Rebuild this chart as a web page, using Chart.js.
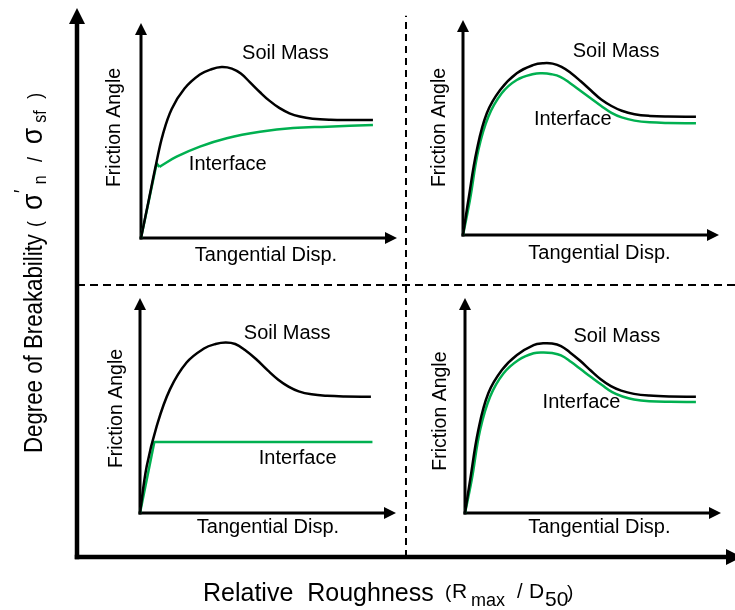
<!DOCTYPE html>
<html>
<head>
<meta charset="utf-8">
<script src="https://cdn.jsdelivr.net/npm/chart.js@4.4.1/dist/chart.umd.min.js"></script>
<style>
  html, body { margin: 0; padding: 0; background: #fff; }
  #wrap { position: relative; width: 735px; height: 610px; overflow: hidden; }
  #wrap canvas { position: absolute; }
</style>
</head>
<body>
<div id="wrap">
  <canvas id="frame" width="735" height="610"></canvas>
  <canvas id="p-tl"></canvas>
  <canvas id="p-tr"></canvas>
  <canvas id="p-bl"></canvas>
  <canvas id="p-br"></canvas>
</div>
<script>
// Outer frame: relative roughness (x) vs degree of breakability (y), split in quadrants at 1
const roughnessRange = [0, 2];
const breakabilityRange = [0, 2];
const quadrantSplit = 1;

// Panel curves as [tangential disp, friction angle], both in arbitrary units 0..10
// top left: low roughness, high breakability
const tlSoil = [[0, 0], [0.3, 1.75], [0.6, 3.5], [0.85, 4.8], [1.2, 6.0], [1.7, 6.95], [2.3, 7.6], [2.75, 7.85],
  [3.15, 7.95], [3.55, 7.88], [3.9, 7.65], [4.25, 7.25], [4.65, 6.78], [5.0, 6.4], [5.4, 6.05], [5.8, 5.8],
  [6.2, 5.65], [6.7, 5.55], [7.4, 5.5], [8.2, 5.49], [9.06, 5.49]];
const tlIfaceRise = [[0, 0], [0.61, 3.47], [0.72, 3.31]];
const tlIface = [[0.72, 3.31], [1.39, 3.78], [2.30, 4.25], [3.35, 4.64], [4.65, 4.94], [5.94, 5.12], [7.27, 5.18], [9.06, 5.26]];

// top right: high roughness, high breakability
const trSoil = [[0, 0], [0.21, 1.63], [0.54, 3.95], [0.93, 5.66], [1.45, 6.74], [2.10, 7.52], [2.76, 7.91],
  [3.15, 7.99], [3.5, 7.97], [3.85, 7.82], [4.2, 7.55], [4.6, 7.15], [5.0, 6.72], [5.4, 6.3], [5.8, 6.0],
  [6.2, 5.78], [6.7, 5.62], [7.3, 5.54], [8.0, 5.51], [9.10, 5.50]];
const trIface = [[0, 0], [0.27, 1.63], [0.60, 3.95], [0.99, 5.50], [1.52, 6.60], [2.10, 7.21], [2.76, 7.49],
  [3.1, 7.52], [3.45, 7.48], [3.8, 7.36], [4.2, 7.05], [4.6, 6.7], [5.0, 6.35], [5.4, 6.0], [5.8, 5.68],
  [6.2, 5.47], [6.7, 5.32], [7.3, 5.24], [8.0, 5.21], [9.10, 5.20]];

// bottom left: low roughness, low breakability
const blSoil = [[0, 0], [0.26, 2.16], [0.65, 4.03], [1.17, 5.75], [1.82, 7.0], [2.5, 7.65], [2.95, 7.86],
  [3.35, 7.93], [3.72, 7.86], [4.1, 7.58], [4.54, 7.15], [5.0, 6.62], [5.4, 6.2], [5.8, 5.88], [6.2, 5.66],
  [6.7, 5.52], [7.3, 5.45], [8.0, 5.42], [9.02, 5.41]];
const blIface = [[0, 0], [0.56, 3.30], [9.08, 3.30]];

// bottom right: high roughness, low breakability
const brSoil = [[0, 0], [0.20, 1.53], [0.52, 3.86], [0.91, 5.57], [1.44, 6.65], [2.03, 7.35], [2.68, 7.81],
  [3.05, 7.89], [3.4, 7.88], [3.75, 7.76], [4.1, 7.47], [4.5, 7.08], [4.9, 6.64], [5.3, 6.22], [5.7, 5.9],
  [6.1, 5.69], [6.6, 5.54], [7.2, 5.46], [8.0, 5.42], [9.02, 5.41]];
const brIface = [[0, 0], [0.26, 1.53], [0.59, 3.86], [0.98, 5.41], [1.50, 6.49], [2.09, 7.12], [2.68, 7.43],
  [3.05, 7.47], [3.4, 7.44], [3.75, 7.33], [4.15, 7.02], [4.55, 6.66], [4.95, 6.3], [5.35, 5.95], [5.75, 5.62],
  [6.15, 5.42], [6.6, 5.28], [7.2, 5.2], [8.0, 5.17], [9.02, 5.16]];

const panelRange = [0, 10];

const FONT = '"Liberation Sans", Arial, Helvetica, sans-serif';
const GREEN = '#00B050';

function toXY(pairs) {
  return pairs.map(p => ({ x: p[0], y: p[1] }));
}

function arrowUp(ctx, x, y, len, half) {
  ctx.beginPath();
  ctx.moveTo(x, y);
  ctx.lineTo(x - half, y + len);
  ctx.lineTo(x + half, y + len);
  ctx.closePath();
  ctx.fill();
}

function arrowRight(ctx, x, y, len, half) {
  ctx.beginPath();
  ctx.moveTo(x, y);
  ctx.lineTo(x - len, y - half);
  ctx.lineTo(x - len, y + half);
  ctx.closePath();
  ctx.fill();
}

// text runs along a baseline, each run has its own size and offsets
function drawRuns(ctx, runs) {
  runs.forEach(r => {
    ctx.font = r.size + 'px ' + FONT;
    ctx.fillText(r.t, r.dx, r.dy);
  });
}

// ---------- outer frame ----------
const frameDecor = {
  id: 'frameDecor',
  beforeDatasetsDraw(chart) {
    const { ctx, chartArea: a, scales: { x, y } } = chart;
    const x0 = x.getPixelForValue(roughnessRange[0]);
    const y0 = y.getPixelForValue(breakabilityRange[0]);
    ctx.save();
    ctx.fillStyle = '#000';
    ctx.strokeStyle = '#000';
    ctx.lineWidth = 4.5;
    // vertical axis
    ctx.beginPath();
    ctx.moveTo(x0, y0 + 2.25);
    ctx.lineTo(x0, a.top + 6);
    ctx.stroke();
    arrowUp(ctx, x0, a.top - 5, 16, 8);
    // horizontal axis
    ctx.beginPath();
    ctx.moveTo(x0 - 2.25, y0);
    ctx.lineTo(a.right - 4, y0);
    ctx.stroke();
    arrowRight(ctx, a.right + 7, y0, 16, 8);
    ctx.restore();
  },
  afterDraw(chart) {
    const { ctx, chartArea: a } = chart;
    ctx.save();
    ctx.fillStyle = '#000';
    ctx.textBaseline = 'alphabetic';
    ctx.textAlign = 'left';
    // x title
    ctx.save();
    ctx.translate(a.left + 126, a.bottom + 44);
    drawRuns(ctx, [
      { t: 'Relative  Roughness', size: 25, dx: 0, dy: 0 },
      { t: '(', size: 19, dx: 242, dy: -3 },
      { t: 'R', size: 21, dx: 249, dy: -3 },
      { t: 'max', size: 18, dx: 268, dy: 5 },
      { t: '/', size: 20, dx: 314, dy: -3 },
      { t: 'D', size: 21, dx: 326, dy: -3 },
      { t: '50', size: 21, dx: 342, dy: 5 },
      { t: ')', size: 19, dx: 364, dy: -3 }
    ]);
    ctx.restore();
    // y title, rotated
    ctx.save();
    ctx.translate(42, a.bottom - 104);
    ctx.rotate(-Math.PI / 2);
    ctx.scale(0.89, 1);
    drawRuns(ctx, [
      { t: 'Degree of Breakability', size: 25, dx: 0, dy: 0 },
      { t: '(', size: 20, dx: 254, dy: 0 },
      { t: '\u03C3', size: 30, dx: 273, dy: 0 },
      { t: '\u2032', size: 20, dx: 292, dy: -14 },
      { t: 'n', size: 18, dx: 302, dy: 4 },
      { t: '/', size: 20, dx: 327, dy: 0 },
      { t: '\u03C3', size: 30, dx: 347, dy: 0 },
      { t: 'sf', size: 18, dx: 371, dy: 4 },
      { t: ')', size: 20, dx: 398, dy: 0 }
    ]);
    ctx.restore();
    ctx.restore();
  }
};

new Chart(document.getElementById('frame'), {
  type: 'line',
  data: {
    datasets: [
      {
        label: 'roughness split',
        data: [{ x: quadrantSplit, y: breakabilityRange[0] }, { x: quadrantSplit, y: 1.99 }],
        borderColor: '#000', borderWidth: 2, borderDash: [7, 5], pointRadius: 0, clip: false
      },
      {
        label: 'breakability split',
        data: [{ x: roughnessRange[0], y: quadrantSplit }, { x: roughnessRange[1], y: quadrantSplit }],
        borderColor: '#000', borderWidth: 2, borderDash: [8, 5], pointRadius: 0, clip: false
      }
    ]
  },
  options: {
    responsive: false,
    animation: false,
    devicePixelRatio: 1,
    layout: { padding: { left: 77, right: 0, top: 13, bottom: 53 } },
    scales: {
      x: { type: 'linear', min: roughnessRange[0], max: roughnessRange[1], display: false },
      y: { type: 'linear', min: breakabilityRange[0], max: breakabilityRange[1], display: false }
    },
    plugins: { legend: { display: false }, tooltip: { enabled: false } },
    events: []
  },
  plugins: [frameDecor]
});

// ---------- panels ----------
const PAD = { left: 50, right: 6, top: 4, bottom: 36 };
const AXIS_W = 256, AXIS_H = 215;

const panels = [
  {
    id: 'p-tl', origin: [141, 238],
    lines: [
      { data: tlSoil, color: '#000', smooth: true },
      { data: tlIfaceRise, color: GREEN, smooth: false },
      { data: tlIface, color: GREEN, smooth: true }
    ],
    soilAt: [5.64, 8.31], ifaceAt: [3.39, 3.16],
    frictionAt: [-0.82, 5.14], dispAt: [4.88, -1.07]
  },
  {
    id: 'p-tr', origin: [463, 235],
    lines: [
      { data: trSoil, color: '#000', smooth: true },
      { data: trIface, color: GREEN, smooth: true }
    ],
    soilAt: [5.98, 8.27], ifaceAt: [4.29, 5.12],
    frictionAt: [-0.71, 5.0], dispAt: [5.33, -1.12]
  },
  {
    id: 'p-bl', origin: [140, 513],
    lines: [
      { data: blSoil, color: '#000', smooth: true },
      { data: blIface, color: GREEN, smooth: false }
    ],
    soilAt: [5.75, 8.08], ifaceAt: [6.16, 2.29],
    frictionAt: [-0.70, 4.86], dispAt: [5.0, -0.93]
  },
  {
    id: 'p-br', origin: [465, 513],
    lines: [
      { data: brSoil, color: '#000', smooth: true },
      { data: brIface, color: GREEN, smooth: true }
    ],
    soilAt: [5.93, 7.94], ifaceAt: [4.55, 4.87],
    frictionAt: [-0.75, 4.74], dispAt: [5.25, -0.93]
  }
];

function panelDecor(p) {
  return {
    id: 'panelDecor',
    beforeDatasetsDraw(chart) {
      const { ctx, scales: { x, y } } = chart;
      const x0 = x.getPixelForValue(panelRange[0]), y0 = y.getPixelForValue(panelRange[0]);
      const x1 = x.getPixelForValue(panelRange[1]), y1 = y.getPixelForValue(panelRange[1]);
      ctx.save();
      ctx.fillStyle = '#000';
      ctx.strokeStyle = '#000';
      ctx.lineWidth = 3;
      ctx.beginPath();
      ctx.moveTo(x0, y0 + 1.5);
      ctx.lineTo(x0, y1 + 8);
      ctx.stroke();
      arrowUp(ctx, x0, y1, 12, 6);
      ctx.beginPath();
      ctx.moveTo(x0 - 1.5, y0);
      ctx.lineTo(x1 - 8, y0);
      ctx.stroke();
      arrowRight(ctx, x1, y0, 12, 6);
      ctx.restore();
    },
    afterDatasetsDraw(chart) {
      const { ctx, scales: { x, y } } = chart;
      const px = v => x.getPixelForValue(v), py = v => y.getPixelForValue(v);
      ctx.save();
      ctx.fillStyle = '#000';
      ctx.textAlign = 'center';
      ctx.textBaseline = 'alphabetic';
      ctx.font = '20px ' + FONT;
      ctx.fillText('Soil Mass', px(p.soilAt[0]), py(p.soilAt[1]));
      ctx.fillText('Interface', px(p.ifaceAt[0]), py(p.ifaceAt[1]));
      ctx.fillText('Tangential Disp.', px(p.dispAt[0]), py(p.dispAt[1]));
      ctx.save();
      ctx.translate(px(p.frictionAt[0]), py(p.frictionAt[1]));
      ctx.rotate(-Math.PI / 2);
      ctx.font = '19.5px ' + FONT;
      ctx.fillText('Friction Angle', 0, 0);
      ctx.restore();
      ctx.restore();
    }
  };
}

panels.forEach(p => {
  const cv = document.getElementById(p.id);
  cv.width = PAD.left + AXIS_W + PAD.right;
  cv.height = PAD.top + AXIS_H + PAD.bottom;
  cv.style.left = (p.origin[0] - PAD.left) + 'px';
  cv.style.top = (p.origin[1] - AXIS_H - PAD.top) + 'px';
  new Chart(cv, {
    type: 'line',
    data: {
      datasets: p.lines.map(l => ({
        data: toXY(l.data),
        borderColor: l.color,
        borderWidth: 2.5,
        pointRadius: 0,
        tension: l.smooth ? 0.4 : 0,
        borderJoinStyle: 'round',
        clip: false
      }))
    },
    options: {
      responsive: false,
      animation: false,
      devicePixelRatio: 1,
      layout: { padding: PAD },
      scales: {
        x: { type: 'linear', min: panelRange[0], max: panelRange[1], display: false },
        y: { type: 'linear', min: panelRange[0], max: panelRange[1], display: false }
      },
      plugins: { legend: { display: false }, tooltip: { enabled: false } },
      events: []
    },
    plugins: [panelDecor(p)]
  });
});
</script>
</body>
</html>
